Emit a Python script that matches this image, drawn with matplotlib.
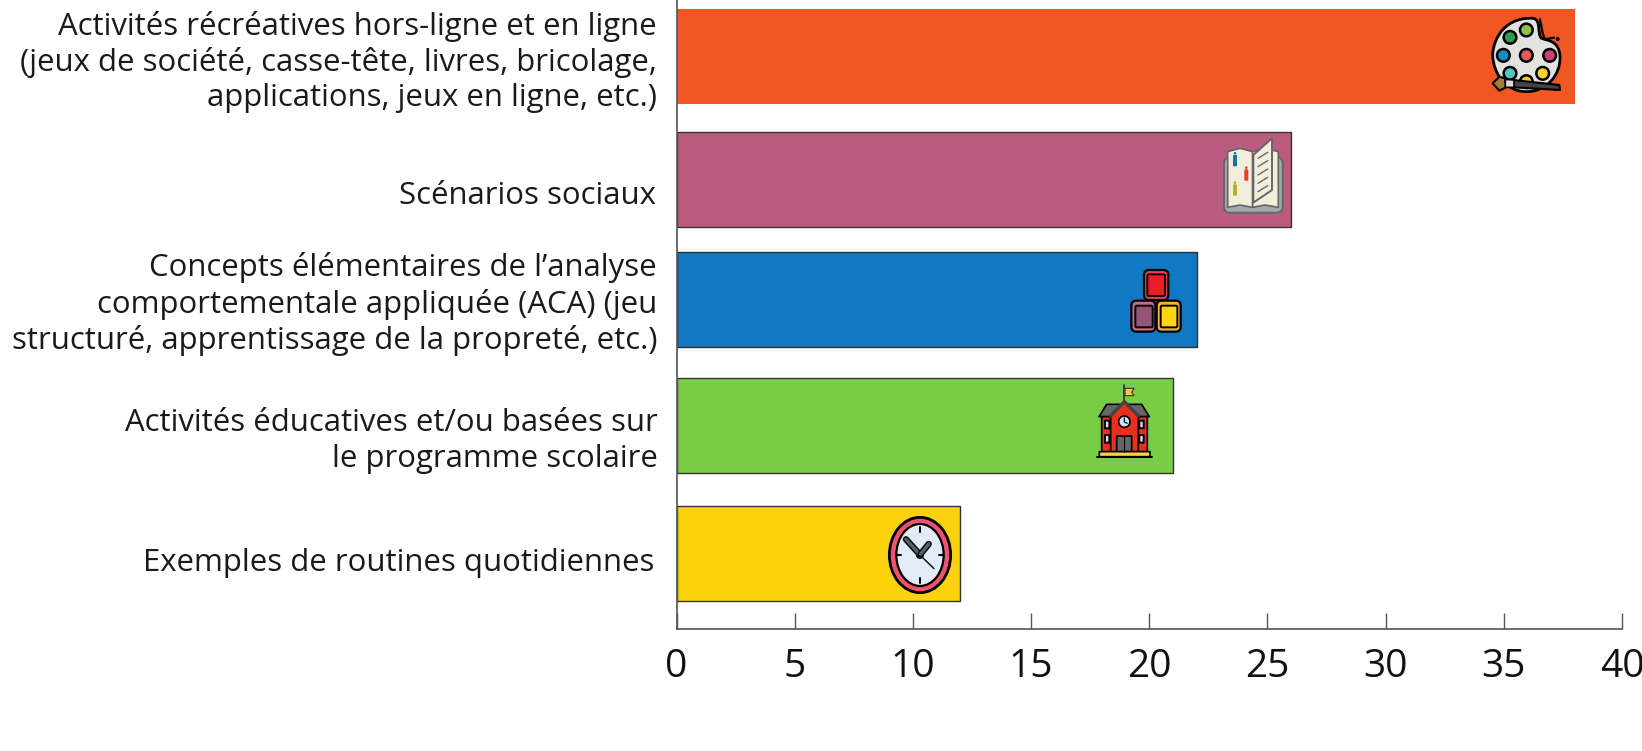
import matplotlib
matplotlib.use('Agg')
import matplotlib.pyplot as plt
from matplotlib.patches import Ellipse, Polygon, FancyBboxPatch, PathPatch
from matplotlib.path import Path

categories = [
    "Activités récréatives hors-ligne et en ligne\n(jeux de société, casse-tête, livres, bricolage,\napplications, jeux en ligne, etc.)",
    "Scénarios sociaux",
    "Concepts élémentaires de l’analyse\ncomportementale appliquée (ACA) (jeu\nstructuré, apprentissage de la propreté, etc.)",
    "Activités éducatives et/ou basées sur\nle programme scolaire",
    "Exemples de routines quotidiennes",
]
values = [38, 26, 22, 21, 12]
colors = ['#F15623', '#BC5B80', '#0F79C4', '#79CC45', '#FCD20F']
edges = ['none', '#333333', '#333333', '#333333', '#333333']
xticks = [0, 5, 10, 15, 20, 25, 30, 35, 40]

# positions in pixels from the top of the picture
bar_y = [56.5, 179.5, 299.5, 425, 553.5]
bar_h = 95
label_y = [62, 196, 304, 441, 563]
label_x = [657, 656, 657, 658, 654]

W, H = 1642, 751
fig = plt.figure(figsize=(W / 100, H / 100), dpi=100)
ax = fig.add_axes([676.5 / W, 1 - 628.5 / H, (1622 - 676.5) / W, 628.5 / H])
ax.set_xlim(0, 40)
ax.set_ylim(628.5, 0)

ax.barh(bar_y, values, height=bar_h, color=colors, edgecolor=edges, linewidth=1)

ax.spines['top'].set_visible(False)
ax.spines['right'].set_visible(False)
for s in ['left', 'bottom']:
    ax.spines[s].set_color('#555555')
    ax.spines[s].set_linewidth(1.2)
ax.set_yticks([])
ax.set_xticks(xticks)
ax.tick_params(axis='x', direction='in', length=11.5, width=1, color='#555555', pad=14)
for t in ax.get_xticklabels():
    t.set_fontsize(28)
    t.set_fontfamily('Open Sans')
    t.set_color('#111111')

ov = fig.add_axes([0, 0, 1, 1])
ov.set_xlim(0, W)
ov.set_ylim(H, 0)
ov.axis('off')
ov.patch.set_alpha(0)

for lab, lx, ly in zip(categories, label_x, label_y):
    ov.text(lx, ly, lab, ha='right', va='center', ma='right', fontsize=22.4,
            family='Open Sans', color='#1a1a1a', linespacing=1.23)


# icons, coordinates are measured in a crop scaled 3x from (x0, y0)
def pts(x0, y0, p):
    return [(x0 + a / 3, y0 + b / 3) for a, b in p]


def poly(x0, y0, p, fc, ec='black', lw=1.2):
    ov.add_patch(Polygon(pts(x0, y0, p), closed=True, fc=fc, ec=ec, lw=lw, joinstyle='round'))


def line(x0, y0, p, c='black', lw=1.2):
    q = pts(x0, y0, p)
    ov.plot([a for a, b in q], [b for a, b in q], color=c, lw=lw, solid_capstyle='round')


def ell(x0, y0, cx, cy, w, h, fc, ec='black', lw=1.2):
    ov.add_patch(Ellipse((x0 + cx / 3, y0 + cy / 3), w / 3, h / 3, fc=fc, ec=ec, lw=lw))


def box(x0, y0, a, b, c, d, fc, ec='black', lw=1.2, r=0):
    ov.add_patch(FancyBboxPatch((x0 + a / 3, y0 + b / 3), (c - a) / 3, (d - b) / 3,
                                boxstyle='round,pad=0,rounding_size=%g' % (r / 3 + 0.01),
                                fc=fc, ec=ec, lw=lw))


# palette
x0, y0 = 1400, 0
verts = pts(x0, y0, [(400, 55), (320, 50), (280, 110), (278, 165), (280, 225), (320, 275), (380, 275),
                     (440, 275), (482, 225), (480, 170), (478, 120), (440, 122), (425, 115),
                     (410, 105), (425, 60), (400, 55)])
codes = [Path.MOVETO] + [Path.CURVE4] * 15
ov.add_patch(PathPatch(Path(verts, codes), fc='#E2E2E0', ec='black', lw=2))
line(x0, y0, [(420, 58), (428, 100), (435, 118), (462, 113)], 'black', 1.6)
ell(x0, y0, 473, 117, 7, 7, 'black')
for cx, cy, c in [(330, 112, '#2E9B4F'), (379, 90, '#8CC34A'), (310, 166, '#0F8FC4'), (379, 166, '#E9585A'),
                  (449, 166, '#D23F78'), (330, 220, '#54C4C4'), (379, 245, '#F9C823'), (428, 220, '#FBD32A')]:
    ell(x0, y0, cx, cy, 38, 38, c, lw=1.8)
poly(x0, y0, [(340, 240), (478, 255), (480, 270), (340, 262)], '#444444', lw=1.5)
poly(x0, y0, [(278, 250), (298, 230), (315, 235), (318, 262), (298, 272)], '#A87B36', lw=1.5)
poly(x0, y0, [(316, 238), (342, 240), (342, 262), (316, 262)], '#DDDDDD', lw=1.2)

# book
x0, y0 = 1180, 120
box(x0, y0, 132, 112, 308, 278, '#A3A9B3', ec='#666666', lw=1.4, r=18)
poly(x0, y0, [(143, 95), (180, 85), (218, 95), (218, 262), (180, 255), (143, 262)], '#F3EEDC', ec='#666666', lw=1.2)
poly(x0, y0, [(218, 95), (255, 85), (295, 95), (295, 262), (255, 255), (218, 262)], '#F3EEDC', ec='#666666', lw=1.2)
poly(x0, y0, [(220, 105), (276, 55), (276, 210), (220, 248)], '#F3EEDC', ec='#666666', lw=1.4)
for b in [115, 140, 165, 190, 215]:
    line(x0, y0, [(234, b), (263, b - 18)], '#666666', 1)
for cx, cy, c in [(165, 117, '#17769B'), (199, 160, '#E8401C'), (165, 205, '#B4B51E')]:
    ell(x0, y0, cx, cy - 17, 8, 8, c, ec='none')
    box(x0, y0, cx - 6, cy - 12, cx + 6, cy + 22, c, ec='none', r=2)

# blocks
x0, y0 = 1090, 250
box(x0, y0, 162, 60, 235, 150, '#F04050', lw=1.6, r=15)
box(x0, y0, 172, 73, 225, 138, '#EE1C25', lw=1.4, r=4)
box(x0, y0, 124, 152, 196, 245, '#C76A92', lw=1.6, r=15)
box(x0, y0, 136, 167, 188, 232, '#955378', lw=1.4, r=4)
box(x0, y0, 200, 152, 272, 245, '#F9B233', lw=1.6, r=15)
box(x0, y0, 212, 167, 262, 232, '#FFD50F', lw=1.4, r=4)

# school
x0, y0 = 1070, 375
line(x0, y0, [(163, 30), (163, 85)], '#333333', 1.2)
poly(x0, y0, [(165, 40), (192, 40), (185, 52), (192, 62), (165, 62)], '#F6C644', ec='#333333', lw=0.8)
poly(x0, y0, [(87, 125), (110, 88), (215, 88), (238, 125)], '#666666')
box(x0, y0, 95, 125, 232, 230, '#E8301C')
poly(x0, y0, [(122, 125), (163, 80), (205, 125), (205, 230), (122, 230)], '#E8301C')
line(x0, y0, [(122, 122), (163, 80), (205, 122)], '#444444', 2.4)
ell(x0, y0, 163, 140, 34, 34, '#CFE3F1')
line(x0, y0, [(163, 128), (163, 141), (172, 145)], 'black', 0.8)
box(x0, y0, 140, 183, 185, 230, '#666666')
line(x0, y0, [(162, 183), (162, 230)], 'black', 0.8)
for a in [105, 208]:
    for b in [137, 180]:
        box(x0, y0, a, b, a + 13, b + 23, '#CFE3F1', lw=1.4)
box(x0, y0, 88, 230, 240, 245, '#FFD23F')
line(x0, y0, [(80, 245), (246, 245)], 'black', 1.4)

# clock
x0, y0 = 860, 500
ell(x0, y0, 180, 165, 184, 226, '#F0536E', lw=2)
ell(x0, y0, 180, 165, 142, 186, '#E3ECF6', lw=1.6)
line(x0, y0, [(180, 80), (180, 95)], 'black', 1.4)
line(x0, y0, [(180, 235), (180, 250)], 'black', 1.4)
line(x0, y0, [(112, 165), (122, 165)], 'black', 1.4)
line(x0, y0, [(238, 165), (248, 165)], 'black', 1.4)
line(x0, y0, [(180, 165), (222, 206)], 'black', 1)
line(x0, y0, [(178, 162), (138, 118)], 'black', 4.6)
line(x0, y0, [(178, 162), (138, 118)], '#51606C', 2.6)
line(x0, y0, [(182, 162), (206, 132)], 'black', 4.6)
line(x0, y0, [(182, 162), (206, 132)], '#51606C', 2.6)
ell(x0, y0, 180, 165, 20, 20, '#E8354A', lw=1)

fig.savefig('out.png', dpi=100)
